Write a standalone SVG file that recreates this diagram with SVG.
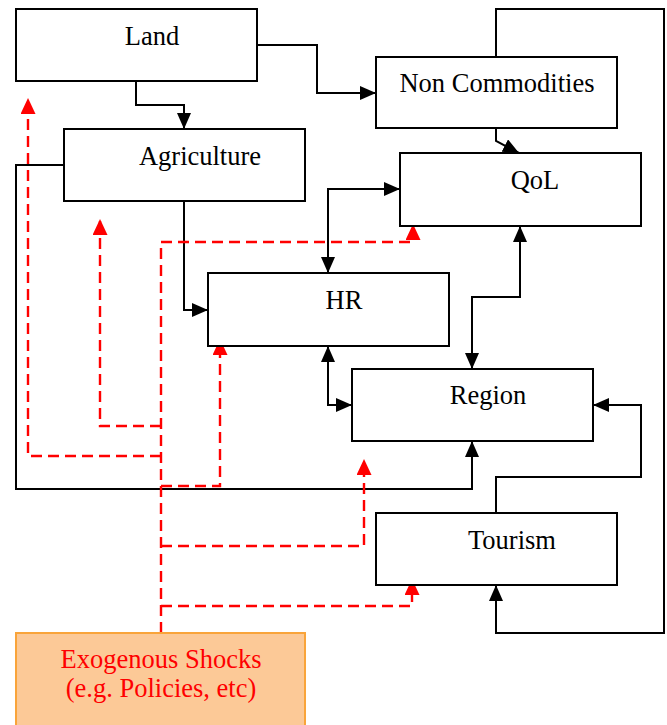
<svg xmlns="http://www.w3.org/2000/svg" width="667" height="725" viewBox="0 0 667 725">
<style>
.box{fill:#fff;stroke:#000;stroke-width:2}
.t{font-family:"Liberation Serif","Times New Roman",serif;font-size:26.5px;fill:#000;text-anchor:middle}
.c{fill:none;stroke:#000;stroke-width:2}
.r{fill:none;stroke:#ff0000;stroke-width:2.4;stroke-dasharray:11 6}
.red{fill:#ff0000}
</style>
<defs>
<marker id="a" viewBox="0 0 16 14" refX="16" refY="7" markerWidth="16" markerHeight="14" markerUnits="userSpaceOnUse" orient="auto-start-reverse"><path d="M0,0 L16,7 L0,14 z" fill="#000"/></marker>
<marker id="ra" viewBox="0 0 16 15" refX="15" refY="7.5" markerWidth="16" markerHeight="15" markerUnits="userSpaceOnUse" orient="auto"><path d="M0,0 L16,7.5 L0,15 z" fill="#ff0000"/></marker>
</defs>
<g id="connectors">
<path class="c" d="M257,45 H317 V93 H376" marker-end="url(#a)"/>
<path class="c" d="M136,81 V105 H184 V129" marker-end="url(#a)"/>
<path class="c" d="M496,128 V141 L519,153" marker-end="url(#a)"/>
<path class="c" d="M496,57 V9 H664 V633 H496 V585" marker-end="url(#a)"/>
<path class="c" d="M64,165 H16 V489 H472 V441" marker-end="url(#a)"/>
<path class="c" d="M184,201 V310 H208" marker-end="url(#a)"/>
<path class="c" d="M400,189 H328 V273" marker-start="url(#a)" marker-end="url(#a)"/>
<path class="c" d="M328,346 V405 H352" marker-start="url(#a)" marker-end="url(#a)"/>
<path class="c" d="M520,226 V297 H472 V369" marker-start="url(#a)" marker-end="url(#a)"/>
<path class="c" d="M496,513 V477 H641 V405 H593" marker-end="url(#a)"/>
<g id="shocks">
<path class="r" d="M161,633 V242 H413 V225" marker-end="url(#ra)"/>
<path class="r" d="M161,456 H28 V99" marker-end="url(#ra)"/>
<path class="r" d="M161,426 H100 V220" marker-end="url(#ra)"/>
<path class="r" d="M161,486 H220 V340" marker-end="url(#ra)"/>
<path class="r" d="M161,546 H364 V460" marker-end="url(#ra)"/>
<path class="r" d="M161,606 H412 V580" marker-end="url(#ra)"/>
</g>
</g>
<g id="land"><rect class="box" x="16" y="9" width="241" height="72"/><text class="t" x="152" y="45">Land</text></g>
<g id="noncommodities"><rect class="box" x="376" y="57" width="241" height="71"/><text class="t" x="497" y="92">Non Commodities</text></g>
<g id="agriculture"><rect class="box" x="64" y="129" width="241" height="72"/><text class="t" x="200" y="165">Agriculture</text></g>
<g id="qol"><rect class="box" x="400" y="153" width="241" height="73"/><text class="t" x="535" y="189">QoL</text></g>
<g id="hr"><rect class="box" x="208" y="273" width="241" height="73"/><text class="t" x="344" y="309">HR</text></g>
<g id="region"><rect class="box" x="352" y="369" width="241" height="72"/><text class="t" x="488" y="404">Region</text></g>
<g id="tourism"><rect class="box" x="376" y="513" width="241" height="72"/><text class="t" x="512" y="549">Tourism</text></g>
<g id="exogenous"><rect x="16" y="633" width="289" height="100" fill="#fcc997" stroke="#f9a43a" stroke-width="2"/><text class="t red" x="161" y="668" style="fill:#ff0000">Exogenous Shocks</text><text class="t red" x="161" y="697" style="fill:#ff0000">(e.g. Policies, etc)</text></g>
</svg>
